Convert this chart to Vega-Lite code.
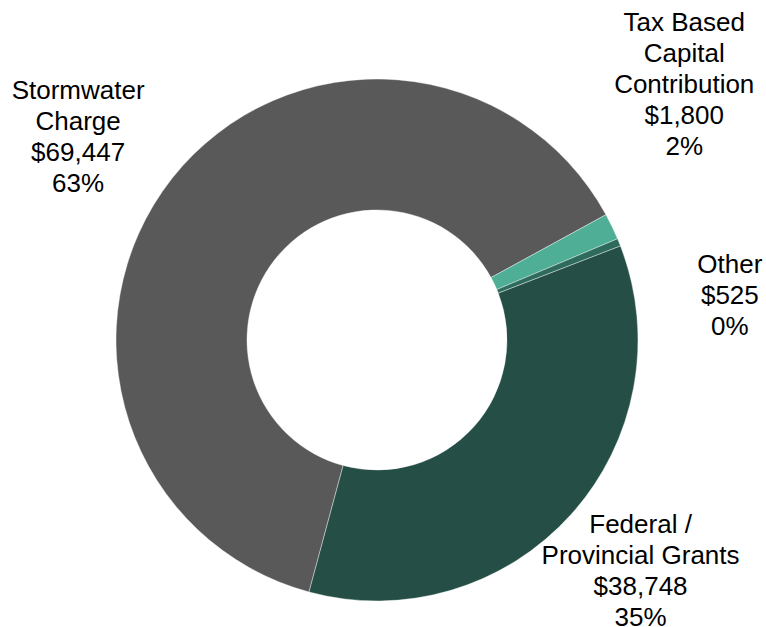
{
  "$schema": "https://vega.github.io/schema/vega-lite/v6.json",
  "autosize": "none",
  "width": 754,
  "height": 574,
  "padding": {"left": 0, "top": 53, "right": 12, "bottom": 0},
  "background": "white",
  "config": {"view": {"stroke": null}},
  "data": {
    "values": [
      {"cat": "Stormwater Charge", "amount": 69447, "rank": 1, "label": "Stormwater\nCharge\n$69,447\n63%"},
      {"cat": "Tax Based Capital Contribution", "amount": 1800, "rank": 2, "label": "Tax Based\nCapital\nContribution\n$1,800\n2%"},
      {"cat": "Other", "amount": 525, "rank": 3, "label": "Other\n$525\n0%"},
      {"cat": "Federal / Provincial Grants", "amount": 38748, "rank": 4, "label": "Federal /\nProvincial Grants\n$38,748\n35%"}
    ]
  },
  "encoding": {
    "theta": {"field": "amount", "type": "quantitative", "stack": true, "scale": {"range": [-2.8781, 3.4051]}},
    "order": {"field": "rank", "type": "quantitative"}
  },
  "layer": [
    {
      "mark": {"type": "arc", "outerRadius": 261, "innerRadius": 130, "stroke": "white", "strokeWidth": 0.4},
      "encoding": {
        "color": {
          "field": "cat", "type": "nominal", "legend": null,
          "scale": {
            "domain": ["Stormwater Charge", "Tax Based Capital Contribution", "Other", "Federal / Provincial Grants"],
            "range": ["#595959", "#4fae96", "#2e6b5c", "#254f46"]
          }
        }
      }
    },
    {
      "mark": {"type": "text", "radius": 360, "dx": -16, "dy": -26, "font": "Liberation Sans", "fontSize": 26, "lineHeight": 31, "lineBreak": "\n", "align": "center", "baseline": "middle", "color": "black"},
      "encoding": {"text": {"condition": {"test": "datum.cat === 'Stormwater Charge'", "field": "label"}, "value": ""}}
    },
    {
      "mark": {"type": "text", "radius": 360, "dx": -17, "dy": -161, "font": "Liberation Sans", "fontSize": 26, "lineHeight": 31, "lineBreak": "\n", "align": "center", "baseline": "middle", "color": "black"},
      "encoding": {"text": {"condition": {"test": "datum.cat === 'Tax Based Capital Contribution'", "field": "label"}, "value": ""}}
    },
    {
      "mark": {"type": "text", "radius": 360, "dx": 19, "dy": 60, "font": "Liberation Sans", "fontSize": 26, "lineHeight": 31, "lineBreak": "\n", "align": "center", "baseline": "middle", "color": "black"},
      "encoding": {"text": {"condition": {"test": "datum.cat === 'Other'", "field": "label"}, "value": ""}}
    },
    {
      "mark": {"type": "text", "radius": 360, "dx": -4, "dy": -56, "font": "Liberation Sans", "fontSize": 26, "lineHeight": 31, "lineBreak": "\n", "align": "center", "baseline": "middle", "color": "black"},
      "encoding": {"text": {"condition": {"test": "datum.cat === 'Federal / Provincial Grants'", "field": "label"}, "value": ""}}
    }
  ]
}
